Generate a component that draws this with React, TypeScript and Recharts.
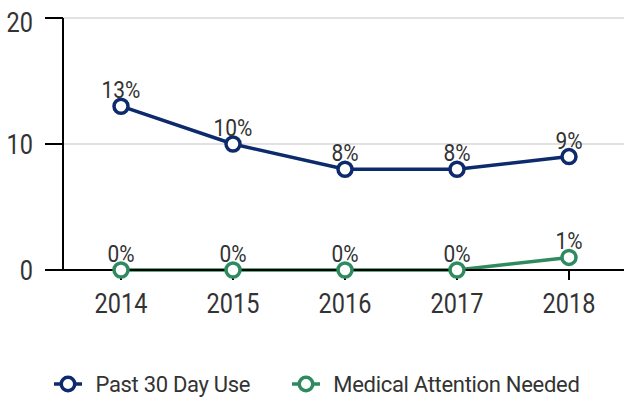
import React from 'react';
import { LineChart, Line, XAxis, YAxis, CartesianGrid, Legend, LabelList } from 'recharts';

if (typeof document !== 'undefined') document.body.style.margin = '0';

const years = ['2014', '2015', '2016', '2017', '2018'];
const past30DayUse = [13, 10, 8, 8, 9];
const medicalAttention = [0, 0, 0, 0, 1];
const yTicks = [0, 10, 20];
const seriesNames = ['Past 30 Day Use', 'Medical Attention Needed'];

const data = years.map((y, i) => ({ year: y, past: past30DayUse[i], medical: medicalAttention[i] }));

const FONT = 'Roboto, sans-serif';
const NAVY = '#0c2a6c';
const GREEN = '#2f8a5f';
const TEXT = '#333';
const SQ = 0.87;

const XTick = (props: any) => {
  const { x, y, payload } = props;
  return (
    <g transform={`translate(${x},${y})`}>
      <text transform={`scale(${SQ},1)`} textAnchor="middle" dy="0.71em" fill={TEXT} fontSize={27} fontFamily={FONT}>
        {payload.value}
      </text>
    </g>
  );
};

const YTick = (props: any) => {
  const { x, y, payload } = props;
  const cy = Math.max(y, 22);
  return (
    <g transform={`translate(${x},${cy})`}>
      <text transform={`scale(${SQ},1)`} textAnchor="end" dy="0.355em" fill={TEXT} fontSize={27} fontFamily={FONT}>
        {payload.value}
      </text>
    </g>
  );
};

const PointLabel = (props: any) => {
  const x = props.x ?? props.viewBox?.x;
  const y = props.y ?? props.viewBox?.y;
  if (x == null || y == null) return null;
  return (
    <g transform={`translate(${x},${y - 8})`}>
      <text transform="scale(0.89,1)" textAnchor="middle" fill={TEXT} fontSize={23.5} fontFamily={FONT}>
        {`${props.value}%`}
      </text>
    </g>
  );
};

const LegendContent = (props: any) => {
  const payload = [...(props.payload || [])].sort(
    (a: any, b: any) => seriesNames.indexOf(a.value) - seriesNames.indexOf(b.value)
  );
  return (
    <div style={{ height: 30, display: 'flex', justifyContent: 'center', alignItems: 'center', fontFamily: FONT, paddingLeft: 10 }}>
      {payload.map((item: any, i: number) => (
        <div key={item.value} style={{ display: 'flex', alignItems: 'center', marginRight: i === 0 ? 42 : 0 }}>
          <svg width={28} height={20} style={{ marginRight: 13 }}>
            <line x1={0} y1={10} x2={28} y2={10} stroke={item.color} strokeWidth={3.5} />
            <circle cx={14} cy={10} r={6.75} fill="#fff" stroke={item.color} strokeWidth={3.5} />
          </svg>
          <span style={{ color: TEXT, fontSize: 22, letterSpacing: -0.3 }}>{item.value}</span>
        </div>
      ))}
    </div>
  );
};

export default function App() {
  return (
    <div style={{ fontFamily: FONT }}>
      <LineChart width={624} height={400} data={data} margin={{ top: 18, right: 0, left: 0, bottom: 50 }}>
        <CartesianGrid vertical={false} stroke="#e2e2e2" strokeWidth={2} />
        <XAxis
          dataKey="year"
          height={50}
          padding={{ left: 58, right: 55 }}
          stroke="#000"
          strokeWidth={2}
          tickSize={10}
          tickMargin={14}
          tick={<XTick />}
        />
        <YAxis
          width={63}
          domain={[0, 20]}
          ticks={yTicks}
          stroke="#000"
          strokeWidth={2}
          tickSize={18}
          tickMargin={12}
          tick={<YTick />}
        />
        <Legend
          verticalAlign="bottom"
          content={<LegendContent />}
          wrapperStyle={{ top: 369, left: 0, width: 624 }}
        />
        <Line
          name={seriesNames[0]}
          dataKey="past"
          stroke={NAVY}
          strokeWidth={3.5}
          dot={{ r: 7, strokeWidth: 3.5, fill: '#fff', stroke: NAVY }}
          isAnimationActive={false}
        >
          <LabelList dataKey="past" content={<PointLabel />} />
        </Line>
        <Line
          name={seriesNames[1]}
          dataKey="medical"
          stroke={GREEN}
          strokeWidth={3.5}
          dot={{ r: 7, strokeWidth: 3.5, fill: '#fff', stroke: GREEN }}
          isAnimationActive={false}
        >
          <LabelList dataKey="medical" content={<PointLabel />} />
        </Line>
      </LineChart>
    </div>
  );
}
